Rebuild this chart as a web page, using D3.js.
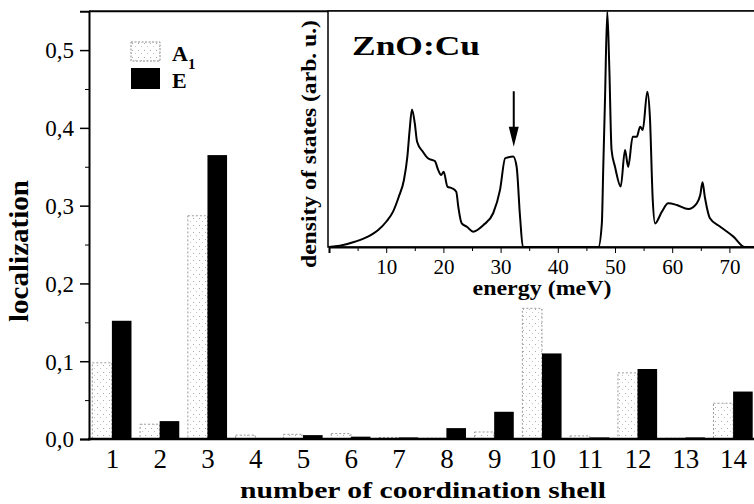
<!DOCTYPE html>
<html>
<head>
<meta charset="utf-8">
<script src="https://cdn.jsdelivr.net/npm/d3@7"></script>
<style>
  body { margin: 0; background: #fff; }
  text { font-family: "Liberation Serif", "Times New Roman", serif; fill: #000; }
</style>
</head>
<body>
<div id="chart"></div>
<script>
// bar data: localization per coordination shell
const shells = [1, 2, 3, 4, 5, 6, 7, 8, 9, 10, 11, 12, 13, 14];
const a1Values = [0.098, 0.019, 0.287, 0.005, 0.006, 0.007, 0.002, 0.001, 0.009, 0.168, 0.004, 0.085, 0.001, 0.046];
const eValues = [0.152, 0.023, 0.365, 0.001, 0.005, 0.003, 0.002, 0.014, 0.035, 0.110, 0.002, 0.090, 0.002, 0.061];
const yTicks = [0, 0.1, 0.2, 0.3, 0.4, 0.5];

// inset: density of states
const dosEnergy = [0, 1.9, 4.5, 6.8, 8.6, 10.0, 11.2, 12.2, 13.1, 13.7, 14.1, 14.5, 15.0, 15.4, 16.4, 17.3, 18.5, 19.1, 19.6, 20.05,
  20.7, 21.5, 22.25, 22.6, 23.2, 24.1, 25.2, 27.0, 28.7, 29.9, 30.8, 31.35, 32.2, 32.8, 33.4, 33.9, 47.1, 47.7, 47.95, 48.25,
  48.65, 49.0, 49.4, 50.0, 51.0, 51.75, 52.3, 53.1, 53.8, 54.4, 54.85, 55.65, 56.1, 56.6, 57.0, 58.2, 59.3, 60.8, 62.8, 64.3,
  64.9, 65.3, 65.7, 66.6, 68.4, 70.7, 72.7, 75];
const dosValues = [0, 0.5, 2.2, 4.4, 7.2, 10.7, 15.0, 21.3, 28.4, 38.3, 49.6, 58.3, 52.4, 44.6, 40.4, 37.6, 36.4, 32.6, 30.5, 31.9,
  25.6, 24.9, 23.4, 17.1, 10.0, 8.6, 6.5, 9.3, 14.3, 24.2, 37.6, 38.0, 38.3, 34.0, 12.8, 0, 0, 10.0, 34.0, 62.3,
  99.7, 76.4, 41.1, 34.0, 25.6, 41.1, 34.0, 46.7, 46.7, 51.0, 49.6, 65.8, 55.2, 19.9, 10.0, 15.0, 18.5, 17.8, 16.1, 18.5,
  22.0, 27.4, 21.3, 12.2, 8.6, 4.4, 0, 0];
const energyTicks = [10, 20, 30, 40, 50, 60, 70];
// arrow marking the Cu-related peak
const arrowEnergy = 32.3;
const arrowFrom = 66, arrowTo = 42.5;

const W = 754, H = 504;
const svg = d3.select("#chart").append("svg")
  .attr("width", W).attr("height", H);

// stipple pattern for the A1 bars
const defs = svg.append("defs");
const pat = defs.append("pattern")
  .attr("id", "stip").attr("patternUnits", "userSpaceOnUse")
  .attr("width", 6).attr("height", 7);
pat.append("rect").attr("width", 6).attr("height", 7).attr("fill", "#fff");
pat.append("rect").attr("x", 1).attr("y", 1).attr("width", 1).attr("height", 1).attr("fill", "#aaa");
pat.append("rect").attr("x", 4).attr("y", 4).attr("width", 1).attr("height", 1).attr("fill", "#c4c4c4");

// main plot scales
const x = d3.scaleLinear().domain([0.5, 14.5]).range([88, 757]);
const y = d3.scaleLinear().domain([0, 0.55]).range([439, 11.2]);
const half = 0.41;

const fmt = d => d3.format(".1f")(d).replace(".", ",");

// bars
svg.append("g").selectAll("rect")
  .data(shells)
  .enter().append("rect")
  .attr("x", (d) => x(d - half))
  .attr("y", (d, i) => y(a1Values[i]))
  .attr("width", x(half) - x(0))
  .attr("height", (d, i) => y(0) - y(a1Values[i]))
  .attr("fill", "url(#stip)")
  .attr("stroke", "#9a9a9a")
  .attr("stroke-width", 1)
  .attr("stroke-dasharray", "2,2");

svg.append("g").selectAll("rect")
  .data(shells)
  .enter().append("rect")
  .attr("x", (d) => x(d))
  .attr("y", (d, i) => y(eValues[i]))
  .attr("width", x(half) - x(0))
  .attr("height", (d, i) => y(0) - y(eValues[i]))
  .attr("fill", "#000");

// frame
svg.append("line").attr("x1", 89).attr("x2", 757).attr("y1", y(0.55)).attr("y2", y(0.55))
  .attr("stroke", "#000").attr("stroke-width", 2);

// y axis (major + minor)
const yAxis = svg.append("g").attr("transform", "translate(89,0)")
  .call(d3.axisLeft(y).tickValues(yTicks).tickSize(9).tickPadding(6).tickFormat(fmt));
svg.append("g").attr("transform", "translate(89,0)")
  .call(d3.axisLeft(y).tickValues([0.05, 0.15, 0.25, 0.35, 0.45]).tickSize(4).tickFormat(""))
  .select(".domain").remove();
yAxis.select(".domain").attr("stroke-width", 2);
yAxis.selectAll(".tick line").attr("stroke-width", 1.5);
yAxis.selectAll("text").style("font-size", "23px").attr("dy", "0.34em");

// x axis: just the line and labels
const xAxis = svg.append("g").attr("transform", "translate(0,439)")
  .call(d3.axisBottom(x).tickValues(shells).tickSize(0).tickPadding(10).tickFormat(d3.format("d")));
xAxis.select(".domain").attr("stroke-width", 2.5).attr("d", "M88,0H757");
xAxis.selectAll("text").style("font-size", "27px").attr("dy", "0.7em");

// axis titles
svg.append("text")
  .attr("x", 423).attr("y", 498)
  .attr("text-anchor", "middle")
  .attr("textLength", 366).attr("lengthAdjust", "spacingAndGlyphs")
  .style("font-size", "24px").style("font-weight", "bold")
  .text("number of coordination shell");

svg.append("text")
  .attr("transform", "translate(28,251) rotate(-90)")
  .attr("text-anchor", "middle")
  .attr("textLength", 142).attr("lengthAdjust", "spacingAndGlyphs")
  .style("font-size", "28px").style("font-weight", "bold")
  .text("localization");

// legend
const legend = svg.append("g").attr("transform", "translate(131,42)");
legend.append("rect").attr("width", 29).attr("height", 19)
  .attr("fill", "url(#stip)").attr("stroke", "#8a8a8a").attr("stroke-dasharray", "2,1.5");
legend.append("rect").attr("y", 26).attr("width", 29).attr("height", 21).attr("fill", "#000");
const la = legend.append("text").attr("x", 41).attr("y", 19)
  .style("font-size", "22px").style("font-weight", "bold");
la.append("tspan").text("A");
la.append("tspan").attr("dy", 8).style("font-size", "15px").text("1");
legend.append("text").attr("x", 41).attr("y", 46)
  .style("font-size", "22px").style("font-weight", "bold").text("E");

// ---------- inset ----------
const ix = d3.scaleLinear().domain([0, 75]).range([329, 758]);
const iy = d3.scaleLinear().domain([0, 100]).range([247, 11]);

svg.append("rect")
  .attr("x", 328).attr("y", 11).attr("width", 440).attr("height", 236)
  .attr("fill", "#fff").attr("stroke", "#000").attr("stroke-width", 1.5);

const ixAxis = svg.append("g").attr("transform", "translate(0,247)")
  .call(d3.axisBottom(ix).tickValues(energyTicks).tickSize(6).tickPadding(6));
svg.append("g").attr("transform", "translate(0,247)")
  .call(d3.axisBottom(ix).tickValues([5, 15, 25, 35, 45, 55, 65, 75]).tickSize(4).tickFormat(""))
  .select(".domain").remove();
ixAxis.select(".domain").attr("stroke-width", 2);
ixAxis.selectAll("text").style("font-size", "21px");

const line = d3.line()
  .x((d, i) => ix(dosEnergy[i]))
  .y(d => iy(d))
  .curve(d3.curveMonotoneX);

svg.append("path")
  .datum(dosValues)
  .attr("d", line)
  .attr("fill", "none")
  .attr("stroke", "#000")
  .attr("stroke-width", 2);

// arrow
svg.append("line")
  .attr("x1", ix(arrowEnergy)).attr("x2", ix(arrowEnergy))
  .attr("y1", iy(arrowFrom)).attr("y2", iy(arrowTo) - 12)
  .attr("stroke", "#000").attr("stroke-width", 2);
svg.append("path")
  .attr("d", `M${ix(arrowEnergy) - 5},${iy(arrowTo) - 20}L${ix(arrowEnergy) + 5},${iy(arrowTo) - 20}L${ix(arrowEnergy)},${iy(arrowTo)}Z`)
  .attr("fill", "#000");

svg.append("text")
  .attr("x", 352).attr("y", 55)
  .attr("textLength", 128).attr("lengthAdjust", "spacingAndGlyphs")
  .style("font-size", "27px").style("font-weight", "bold")
  .text("ZnO:Cu");

svg.append("text")
  .attr("x", 542).attr("y", 295)
  .attr("text-anchor", "middle")
  .attr("textLength", 139).attr("lengthAdjust", "spacingAndGlyphs")
  .style("font-size", "20px").style("font-weight", "bold")
  .text("energy (meV)");

svg.append("text")
  .attr("transform", "translate(316,144) rotate(-90)")
  .attr("text-anchor", "middle")
  .attr("textLength", 248).attr("lengthAdjust", "spacingAndGlyphs")
  .style("font-size", "21px").style("font-weight", "bold")
  .text("density of states (arb. u.)");
</script>
</body>
</html>
